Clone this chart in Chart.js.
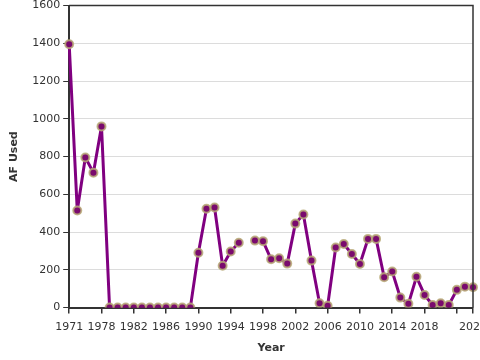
<!DOCTYPE html>
<html>
<head>
	<meta charset="UTF-8">
	<title>AF Used by Year</title>
	<script src="https://cdn.jsdelivr.net/npm/chart.js@4.4.1/dist/chart.umd.min.js"></script>
	<style>
		html, body { margin: 0; padding: 0; overflow: hidden; background: #fff; }
		#wrap { position: relative; width: 494px; height: 369px; top: -4px; }
	</style>
</head>
<body>
	<div id="wrap"><canvas id="afChart"></canvas></div>
<script>
	// data
	var years = [1971, 1975, 1976, 1977, 1978, 1979, 1980, 1981, 1982, 1983, 1984, 1985, 1986,
		1987, 1988, 1989, 1990, 1991, 1992, 1993, 1994, 1995, 1996, 1997, 1998, 1999, 2000,
		2001, 2002, 2003, 2004, 2005, 2006, 2007, 2008, 2009, 2010, 2011, 2012, 2013, 2014,
		2015, 2016, 2017, 2018, 2019, 2020, 2021, 2022, 2023, 2024];
	var afUsed = [1395, 514, 795, 715, 960, 0, 0, 0, 0, 0, 0, 0, 0,
		0, 0, 0, 291, 524, 530, 222, 297, 344, null, 355, 352, 256, 261,
		233, 445, 493, 249, 23, 10, 318, 337, 284, 231, 364, 364, 161, 191,
		53, 20, 163, 67, 14, 23, 14, 94, 111, 108];
	var yTicks = [0, 200, 400, 600, 800, 1000, 1200, 1400, 1600];

	var axisColor = '#333';
	var textColor = '#333';
	var font = { family: 'DejaVu Sans', size: 11 };

	// frame round the plot area (top and right edges)
	var framePlugin = {
		id: 'frame',
		afterDraw: function(chart) {
			var a = chart.chartArea, ctx = chart.ctx;
			ctx.save();
			ctx.strokeStyle = axisColor;
			ctx.lineWidth = 1.5;
			ctx.beginPath();
			ctx.moveTo(a.left, a.top);
			ctx.lineTo(a.right, a.top);
			ctx.lineTo(a.right, a.bottom);
			ctx.stroke();
			ctx.restore();
		}
	};

	var ctx = document.getElementById('afChart').getContext('2d');
	var afChart = new Chart(ctx, {
		type: 'line',
		data: {
			labels: years.map(String),
			datasets: [{
				label: 'AF Used',
				data: afUsed,
				borderColor: '#800080',
				borderWidth: 3,
				borderJoinStyle: 'round',
				pointRadius: 4,
				pointBorderWidth: 2,
				pointBackgroundColor: '#7a0a6e',
				pointBorderColor: 'rgba(185,170,120,0.85)',
				spanGaps: false,
				tension: 0
			}]
		},
		options: {
			responsive: true,
			maintainAspectRatio: false,
			animation: false,
			layout: { padding: { left: 4, right: 0, top: 0, bottom: 6 } },
			plugins: { legend: { display: false }, tooltip: { enabled: false } },
			scales: {
				x: {
					type: 'category',
					offset: false,
					afterBuildTicks: function(scale) {
						var last = years.length - 1;
						scale.ticks = scale.ticks.filter(function(t) {
							return t.value % 4 === 0 || t.value === last;
						});
					},
					grid: { display: true, drawOnChartArea: false, drawTicks: true, tickLength: 6, color: axisColor, lineWidth: 1.5 },
					border: { display: true, color: axisColor, width: 2 },
					ticks: {
						autoSkip: false,
						maxRotation: 0,
						color: textColor,
						font: font,
						padding: 7,
						callback: function(value) {
							var last = years.length - 1;
							if (value !== last && last - value < 4) return '';
							return String(years[value]);
						}
					},
					title: { display: true, text: 'Year', color: textColor, font: { family: 'DejaVu Sans', size: 11, weight: 'bold' }, padding: { top: 1 } }
				},
				y: {
					min: 0,
					max: 1600,
					afterBuildTicks: function(scale) {
						scale.ticks = yTicks.map(function(v) { return { value: v }; });
					},
					grid: { color: '#dcdcdc', lineWidth: 1, tickLength: 6, tickColor: axisColor },
					border: { display: true, color: axisColor, width: 2 },
					ticks: { color: textColor, font: font, padding: 3, callback: function(v) { return String(v); } },
					title: { display: true, text: 'AF Used', color: textColor, font: { family: 'DejaVu Sans', size: 11, weight: 'bold' }, padding: { bottom: 8 } }
				}
			}
		},
		plugins: [framePlugin]
	});
</script>
</body>
</html>
